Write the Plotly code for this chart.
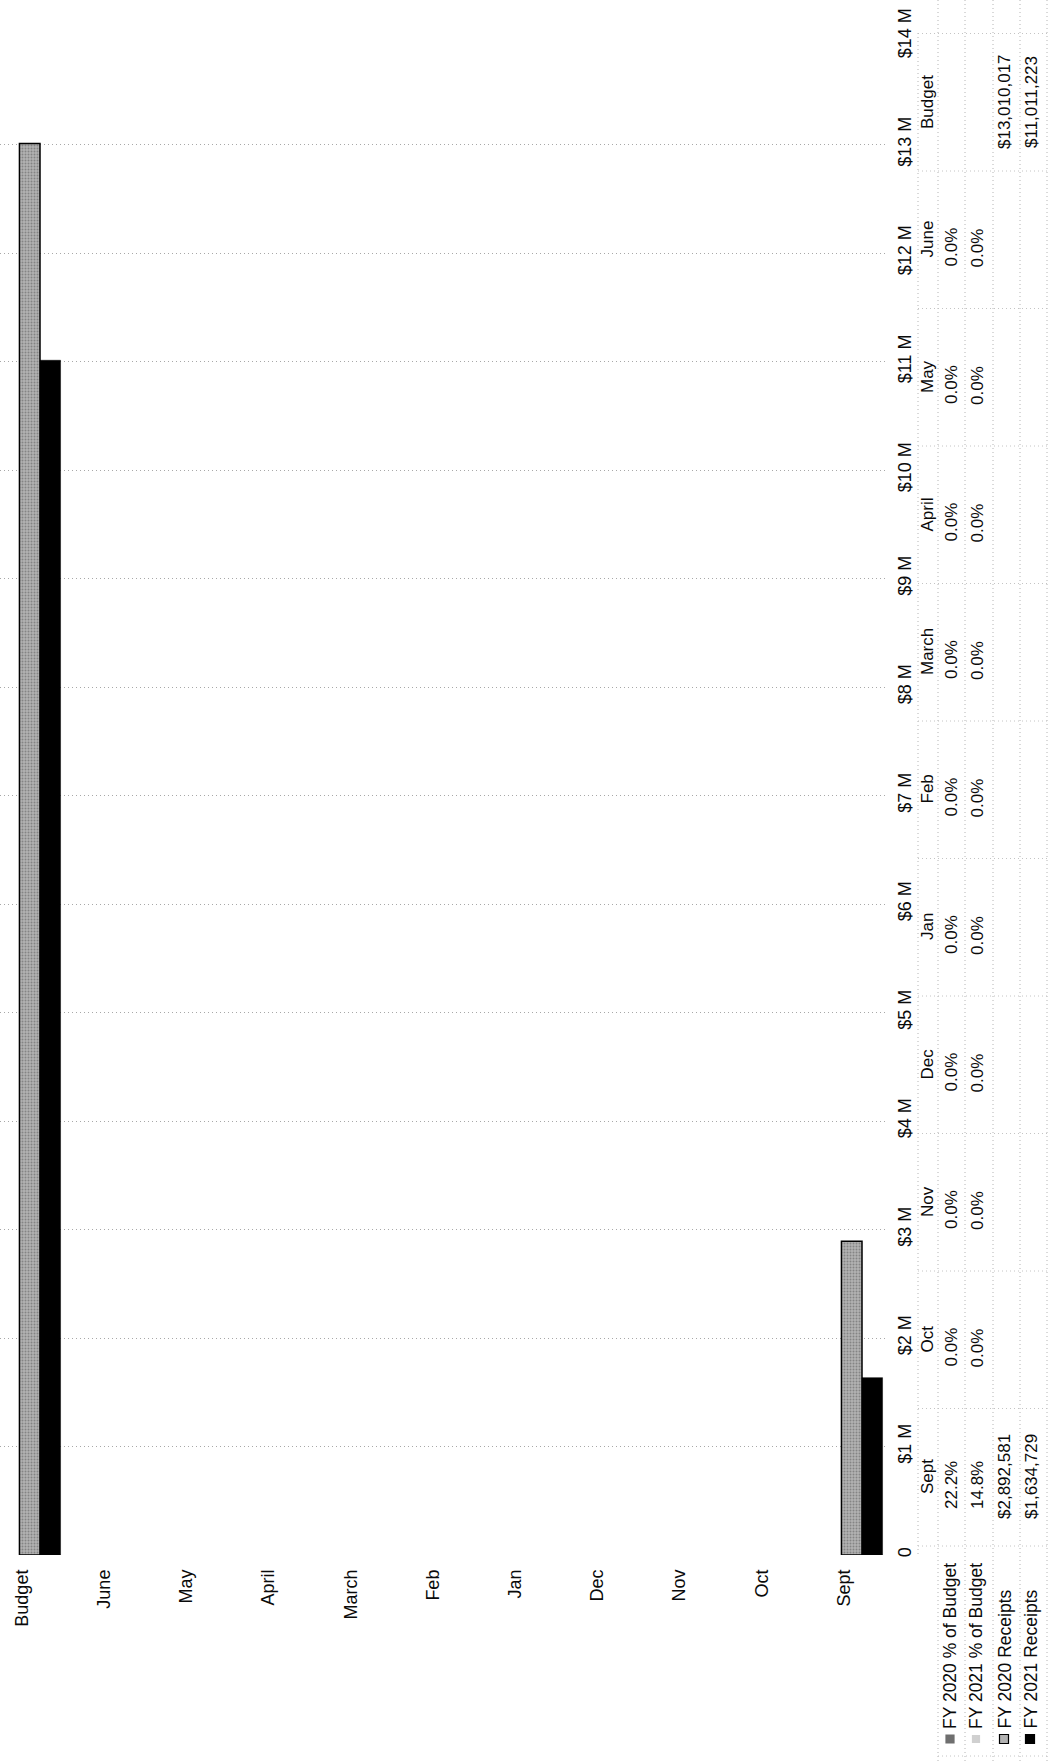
import plotly.graph_objects as go

# ---------------- data ----------------
categories = ["Budget", "June", "May", "April", "March", "Feb", "Jan", "Dec", "Nov", "Oct", "Sept"]
fy2020_receipts = [13010017, 0, 0, 0, 0, 0, 0, 0, 0, 0, 2892581]
fy2021_receipts = [11011223, 0, 0, 0, 0, 0, 0, 0, 0, 0, 1634729]

table_months = ["Sept", "Oct", "Nov", "Dec", "Jan", "Feb", "March", "April", "May", "June", "Budget"]
fy2020_pct_text = ["22.2%", "0.0%", "0.0%", "0.0%", "0.0%", "0.0%", "0.0%", "0.0%", "0.0%", "0.0%", ""]
fy2021_pct_text = ["14.8%", "0.0%", "0.0%", "0.0%", "0.0%", "0.0%", "0.0%", "0.0%", "0.0%", "0.0%", ""]
fy2020_rec_text = ["$2,892,581", "", "", "", "", "", "", "", "", "", "$13,010,017"]
fy2021_rec_text = ["$1,634,729", "", "", "", "", "", "", "", "", "", "$11,011,223"]

legend_labels = ["FY 2020 % of Budget", "FY 2021 % of Budget", "FY 2020 Receipts", "FY 2021 Receipts"]

y_tickvals = [0, 1e6, 2e6, 3e6, 4e6, 5e6, 6e6, 7e6, 8e6, 9e6, 10e6, 11e6, 12e6, 13e6, 14e6]
y_ticktext = ["0", "$1 M", "$2 M", "$3 M", "$4 M", "$5 M", "$6 M", "$7 M", "$8 M", "$9 M",
              "$10 M", "$11 M", "$12 M", "$13 M", "$14 M"]

# ---------------- layout geometry (pixels) ----------------
W, H = 1055, 1764
PL, PR, PT, PB = 0, 888, 36, 1555   # plot area box
FONT = "Liberation Sans, Arial, sans-serif"
TXT = "#0a0a0a"


def px_x(px):
    return (px - PL) / (PR - PL)


def px_y(py):
    return (PB - py) / (PB - PT)


fig = go.Figure()
fig.add_trace(go.Bar(
    x=categories, y=fy2020_receipts, name="FY 2020 Receipts",
    marker=dict(color="#b2b2b2",
                line=dict(color="#000", width=[1.5 if v else 0 for v in fy2020_receipts]),
                pattern=dict(shape=".", fgcolor="#555555", size=3, solidity=0.35, fillmode="overlay")),
))
fig.add_trace(go.Bar(
    x=categories, y=fy2021_receipts, name="FY 2021 Receipts",
    marker=dict(color="#000", line=dict(color="#000", width=[0.5 if v else 0 for v in fy2021_receipts])),
))

annotations = []
shapes = []

# data table (rotated)
for i, m in enumerate(table_months):
    cy = 1477 - 137.5 * i
    annotations.append(dict(x=px_x(927), y=px_y(cy), text=m))
    if fy2020_pct_text[i]:
        annotations.append(dict(x=px_x(951), y=px_y(cy + 8), text=fy2020_pct_text[i]))
    if fy2021_pct_text[i]:
        annotations.append(dict(x=px_x(977), y=px_y(cy + 8), text=fy2021_pct_text[i]))
    if fy2020_rec_text[i]:
        annotations.append(dict(x=px_x(1004), y=px_y(cy), text=fy2020_rec_text[i]))
    if fy2021_rec_text[i]:
        annotations.append(dict(x=px_x(1031), y=px_y(cy), text=fy2021_rec_text[i]))

for a in annotations:
    a.update(xref="paper", yref="paper", showarrow=False, textangle=-90,
             xanchor="center", yanchor="middle",
             font=dict(family=FONT, size=17, color=TXT))

# legend (rotated) with swatches
legend_x = [950, 976, 1004, 1030]
sw_fill = ["#6f6f6f", "#d0d0d0", "#b2b2b2", "#000"]
sw_line = ["#6f6f6f", "#d0d0d0", "#000", "#000"]
sw_size = [8, 7, 9, 9]
for lx, lab, fc, lc, sz in zip(legend_x, legend_labels, sw_fill, sw_line, sw_size):
    annotations.append(dict(x=px_x(lx), y=px_y(1730), text=lab, xref="paper", yref="paper",
                            showarrow=False, textangle=-90, xanchor="center", yanchor="bottom",
                            borderpad=0,
                            font=dict(family=FONT, size=17.5, color=TXT)))
    shapes.append(dict(type="rect", xref="paper", yref="paper",
                       x0=px_x(lx - sz / 2), x1=px_x(lx + sz / 2),
                       y0=px_y(1739 + sz / 2), y1=px_y(1739 - sz / 2),
                       fillcolor=fc, line=dict(color=lc, width=1.2)))

# table grid lines (dotted, faint)
grid_style = dict(color="#b4b4b4", width=1, dash="1px,3px")
shapes.append(dict(type="line", xref="paper", yref="paper", x0=px_x(918), x1=px_x(918),
                   y0=px_y(33), y1=px_y(1555), line=grid_style))
for vx in [938, 965, 993, 1020, 1047]:
    shapes.append(dict(type="line", xref="paper", yref="paper", x0=px_x(vx), x1=px_x(vx),
                       y0=px_y(0), y1=px_y(1764), line=grid_style))
for k in range(12):
    hy = 33.5 + 137.5 * k
    shapes.append(dict(type="line", xref="paper", yref="paper", x0=px_x(918), x1=px_x(1047),
                       y0=px_y(hy), y1=px_y(hy), line=dict(color="#c4c4c4", width=1, dash="1px,3px")))
# legend block bottom line
shapes.append(dict(type="line", xref="paper", yref="paper", x0=px_x(938), x1=px_x(1047),
                   y0=px_y(1756), y1=px_y(1756), line=dict(color="#c4c4c4", width=1, dash="1px,3px")))

fig.update_layout(
    width=W, height=H,
    margin=dict(l=PL, r=W - PR, t=PT, b=H - PB, pad=0),
    paper_bgcolor="white", plot_bgcolor="white",
    barmode="group", bargap=0.5, bargroupgap=0,
    showlegend=False,
    font=dict(family=FONT, size=18, color=TXT),
    annotations=annotations, shapes=shapes,
)
fig.update_xaxes(
    type="category", range=[-40 / 82.2, 848 / 82.2],
    tickangle=-90, ticks="", showline=False, showgrid=False, zeroline=False,
    ticklabelshift=-18, ticklabelstandoff=10,
    tickfont=dict(family=FONT, size=18, color=TXT),
)
fig.update_yaxes(
    range=[0, 14e6], side="right",
    tickvals=y_tickvals, ticktext=y_ticktext,
    tickangle=-90, ticks="", showline=False,
    showgrid=True, gridcolor="#a8a8a8", griddash="1px,3px", gridwidth=1,
    zeroline=False, ticklabelstandoff=4,
    tickfont=dict(family=FONT, size=18, color=TXT),
)

fig.write_html("out.html")
